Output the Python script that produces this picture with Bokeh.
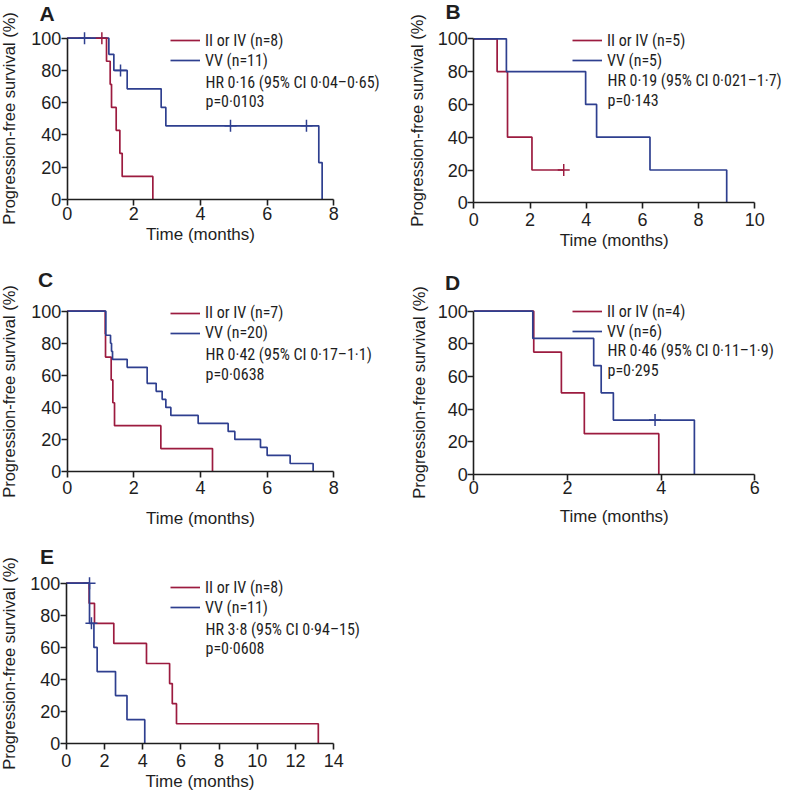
from bokeh.plotting import figure
from bokeh.models import Range1d, FixedTicker, Label, Legend, LegendItem
from bokeh.layouts import column, row
from bokeh.embed import file_html
from bokeh.resources import INLINE

RED = "#9c1b3f"
BLUE = "#2e3f8f"
INK = "#1e1e1e"
SANS = "Liberation Sans"
COND = "Roboto Condensed"

# ---------------- data (step points: time in months, survival %) ----------------
a_red_t = [0, 1.18, 1.29, 1.33, 1.47, 1.58, 1.65, 2.57]
a_red_s = [100, 85.7, 71.4, 57.1, 42.9, 28.6, 14.3, 0]
a_red_cens_t = [1.04]
a_red_cens_s = [100]
a_blue_t = [0, 1.25, 1.40, 1.80, 2.82, 2.96, 7.55, 7.65]
a_blue_s = [100, 90, 80, 68.6, 57.1, 45.7, 22.9, 0]
a_blue_cens_t = [0.52, 1.60, 4.90, 7.18]
a_blue_cens_s = [100, 80, 45.7, 45.7]

b_red_t = [0, 0.83, 1.20, 2.07, 3.20]
b_red_s = [100, 80, 40, 20, 20]
b_red_cens_t = [3.20]
b_red_cens_s = [20]
b_blue_t = [0, 1.16, 3.98, 4.37, 6.27, 9.00]
b_blue_s = [100, 80, 60, 40, 20, 0]
b_blue_cens_t = []
b_blue_cens_s = []

c_red_t = [0, 1.14, 1.15, 1.32, 1.37, 1.42, 2.81, 4.36]
c_red_s = [100, 85.7, 71.4, 57.1, 42.9, 28.6, 14.3, 0]
c_red_cens_t = []
c_red_cens_s = []
c_blue_t = [0, 1.16, 1.30, 1.33, 1.36, 1.80, 2.40, 2.67, 2.85, 2.96, 3.11,
            3.93, 4.83, 5.03, 5.80, 6.00, 6.69, 7.38]
c_blue_s = [100, 85, 80, 75, 70, 65, 55, 50, 45, 40, 35,
            30, 25, 20, 15, 10, 5, 0]
c_blue_cens_t = []
c_blue_cens_s = []

d_red_t = [0, 1.28, 1.87, 2.36, 3.95]
d_red_s = [100, 75, 50, 25, 0]
d_red_cens_t = []
d_red_cens_s = []
d_blue_t = [0, 1.26, 2.56, 2.72, 2.98, 4.71]
d_blue_s = [100, 83.3, 66.7, 50, 33.3, 0]
d_blue_cens_t = [3.87]
d_blue_cens_s = [33.3]

e_red_t = [0, 1.20, 1.48, 2.49, 4.20, 5.41, 5.55, 5.77, 13.19]
e_red_s = [100, 87.5, 75, 62.5, 50, 37.5, 25, 12.5, 0]
e_red_cens_t = []
e_red_cens_s = []
e_blue_t = [0, 1.22, 1.45, 1.62, 2.58, 3.18, 4.11]
e_blue_s = [100, 75, 60, 45, 30, 15, 0]
e_blue_cens_t = [1.22, 1.32]
e_blue_cens_s = [100, 75]

letters = ["A", "B", "C", "D", "E"]
red_labels = ["II or IV (n=8)", "II or IV (n=5)", "II or IV (n=7)", "II or IV (n=4)", "II or IV (n=8)"]
blue_labels = ["VV (n=11)", "VV (n=5)", "VV (n=20)", "VV (n=6)", "VV (n=11)"]
hr_texts = ["HR 0·16 (95% CI 0·04–0·65)", "HR 0·19 (95% CI 0·021–1·7)",
            "HR 0·42 (95% CI 0·17–1·1)", "HR 0·46 (95% CI 0·11–1·9)",
            "HR 3·8 (95% CI 0·94–15)"]
p_texts = ["p=0·0103", "p=0·143", "p=0·0638", "p=0·295", "p=0·0608"]
x_title = "Time (months)"
y_title = "Progression-free survival (%)"
x_max = [8, 10, 8, 6, 14]
x_ticks = [[0, 2, 4, 6, 8], [0, 2, 4, 6, 8, 10], [0, 2, 4, 6, 8], [0, 2, 4, 6],
           [0, 2, 4, 6, 8, 10, 12, 14]]
y_ticks = [0, 20, 40, 60, 80, 100]

curves = [
    (a_red_t, a_red_s, a_red_cens_t, a_red_cens_s, a_blue_t, a_blue_s, a_blue_cens_t, a_blue_cens_s),
    (b_red_t, b_red_s, b_red_cens_t, b_red_cens_s, b_blue_t, b_blue_s, b_blue_cens_t, b_blue_cens_s),
    (c_red_t, c_red_s, c_red_cens_t, c_red_cens_s, c_blue_t, c_blue_s, c_blue_cens_t, c_blue_cens_s),
    (d_red_t, d_red_s, d_red_cens_t, d_red_cens_s, d_blue_t, d_blue_s, d_blue_cens_t, d_blue_cens_s),
    (e_red_t, e_red_s, e_red_cens_t, e_red_cens_s, e_blue_t, e_blue_s, e_blue_cens_t, e_blue_cens_s),
]

# ---------------- layout geometry, page pixels ----------------
# rect: figure (left, top, width, height); ax: px of t=0, px of t=xmax, px of 0 %, px of 100 %
geom = [
    dict(rect=(0, 0, 393, 255), ax=(66.7, 333.3, 199.0, 37.7), glyph_x=170, rows=(40, 60, 81.5, 100.5),
         letter=(46.5, 13), ytitle=(8, 118), xtitle=(200, 234), mlo=1),
    dict(rect=(393, 0, 393, 255), ax=(473.3, 754.3, 202.3, 38.3), glyph_x=572, rows=(40, 60, 80, 99.5),
         letter=(452.5, 11), ytitle=(416, 120), xtitle=(613.8, 240), mlo=4),
    dict(rect=(0, 255, 393, 275), ax=(66.7, 333.3, 471.0, 310.7), glyph_x=170, rows=(312.7, 332.7, 354.3, 374.3),
         letter=(45, 278.5), ytitle=(8, 391), xtitle=(200, 518), mlo=3),
    dict(rect=(393, 255, 393, 275), ax=(473.3, 754.3, 474.0, 310.7), glyph_x=572, rows=(311, 330.5, 350, 369.5),
         letter=(452, 282), ytitle=(418, 392), xtitle=(613.8, 516), mlo=0),
    dict(rect=(0, 530, 393, 261), ax=(65.7, 333.3, 743.3, 582.7), glyph_x=170, rows=(587.3, 607.3, 629.3, 648.3),
         letter=(46.5, 556), ytitle=(8, 663), xtitle=(199.5, 781), mlo=4),
]


def make_panel(i):
    g = geom[i]
    FL, FT, W, H = g["rect"]
    px0, pxm, py0, py100 = g["ax"]
    xm = x_max[i]
    ppx = (pxm - px0) / xm
    ppy = (py0 - py100) / 100.0
    x_rng = Range1d((FL - px0) / ppx, (FL + W - px0) / ppx)
    y_rng = Range1d((py0 - (FT + H)) / ppy, (py0 - FT) / ppy)

    def sx(px):
        return px - FL

    def sy(py):
        return (FT + H) - py

    rt, rs, rct, rcs, bt, bs, bct, bcs = curves[i]
    p = figure(width=W, height=H, output_backend="svg", toolbar_location=None,
               x_range=x_rng, y_range=y_rng, min_border=0)
    p.outline_line_color = None
    p.grid.visible = False
    p.background_fill_color = "white"
    p.border_fill_color = "white"

    for ax, ticks, bounds in ((p.xaxis[0], x_ticks[i], (0, xm)), (p.yaxis[0], y_ticks, (0, 100))):
        ax.fixed_location = 0
        ax.ticker = FixedTicker(ticks=ticks)
        ax.bounds = bounds
        ax.axis_line_color = INK
        ax.axis_line_width = 1.6
        ax.major_tick_line_color = INK
        ax.major_tick_line_width = 1.6
        ax.major_tick_out = 6
        ax.major_tick_in = 0
        ax.minor_tick_line_color = None
        ax.major_label_text_font = SANS
        ax.major_label_text_font_size = "18px"
        ax.major_label_text_color = INK
    p.xaxis[0].major_label_standoff = g["mlo"]
    p.yaxis[0].major_label_standoff = 0

    r_red = p.step(rt, rs, mode="after", line_color=RED, line_width=1.7)
    r_blue = p.step(bt, bs, mode="after", line_color=BLUE, line_width=1.7)
    if rct:
        p.scatter(rct, rcs, marker="cross", size=12, line_color=RED, line_width=1.5)
    if bct:
        p.scatter(bct, bcs, marker="cross", size=12, line_color=BLUE, line_width=1.5)

    r1, r2, r3, r4 = g["rows"]
    gx = g["glyph_x"]
    leg = Legend(items=[LegendItem(label=red_labels[i], renderers=[r_red]),
                        LegendItem(label=blue_labels[i], renderers=[r_blue])],
                 location=(sx(gx), sy(r1 + 30)), orientation="vertical",
                 glyph_width=30, glyph_height=20, label_height=20, label_standoff=5,
                 spacing=0, padding=0, margin=0,
                 border_line_alpha=0, background_fill_alpha=0,
                 label_text_font=COND, label_text_font_size="16px",
                 label_text_color=INK)
    p.add_layout(leg)

    for txt, yy in ((hr_texts[i], r3), (p_texts[i], r4)):
        p.add_layout(Label(x=sx(gx + 35), y=sy(yy), x_units="screen", y_units="screen", text=txt,
                           text_font=COND, text_font_size="16px", text_color=INK,
                           text_baseline="middle", text_align="left"))

    lx, ly = g["letter"]
    p.add_layout(Label(x=sx(lx), y=sy(ly), x_units="screen", y_units="screen", text=letters[i],
                       text_font=SANS, text_font_style="bold", text_font_size="21px",
                       text_color=INK, text_baseline="middle", text_align="center"))
    tx, ty = g["ytitle"]
    p.add_layout(Label(x=sx(tx), y=sy(ty), x_units="screen", y_units="screen",
                       text=y_title, angle=90, angle_units="deg",
                       text_font=SANS, text_font_size="16.5px", text_color=INK,
                       text_baseline="middle", text_align="center"))
    tx, ty = g["xtitle"]
    p.add_layout(Label(x=sx(tx), y=sy(ty), x_units="screen", y_units="screen", text=x_title,
                       text_font=SANS, text_font_size="17px",
                       text_color=INK, text_baseline="middle", text_align="center"))
    return p


figs = [make_panel(i) for i in range(5)]
layout = column(row(figs[0], figs[1]), row(figs[2], figs[3]), figs[4])

open("out.html", "w").write(file_html(layout, INLINE))
